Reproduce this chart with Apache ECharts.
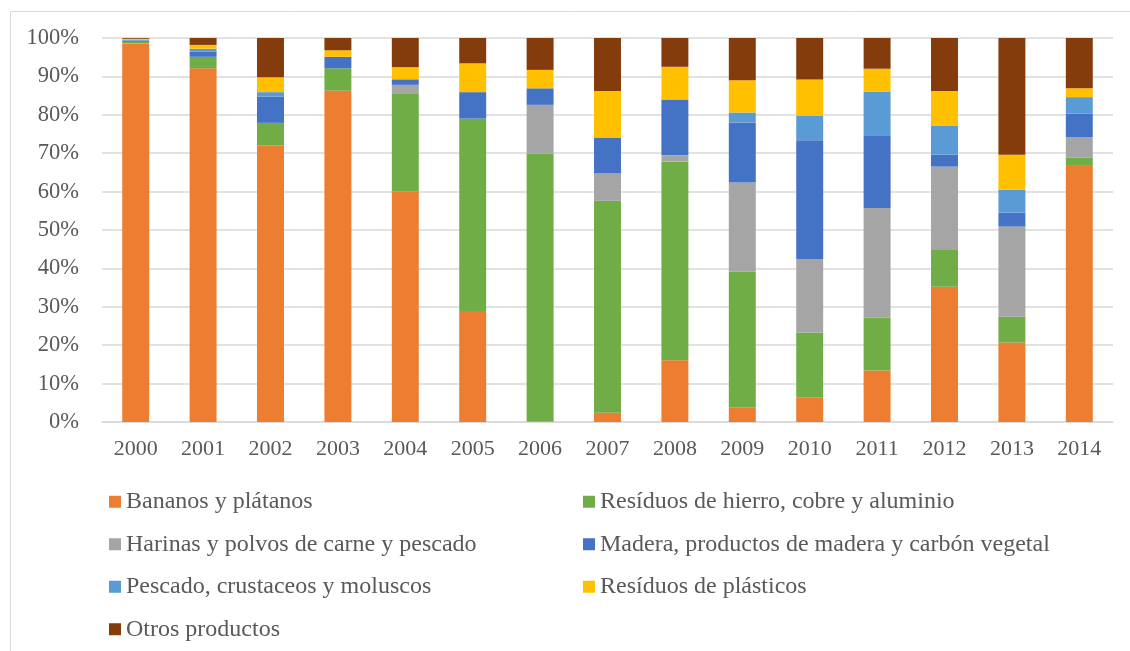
<!DOCTYPE html>
<html>
<head>
<meta charset="utf-8">
<script src="https://cdn.jsdelivr.net/npm/echarts@6/dist/echarts.min.js"></script>
<style>
html,body{margin:0;padding:0;background:#fff;}
#chart{width:1130px;height:651px;}
</style>
</head>
<body>
<div id="chart"></div>
<script>
const years = ['2000','2001','2002','2003','2004','2005','2006','2007','2008','2009','2010','2011','2012','2013','2014'];
const yTicks = [0,10,20,30,40,50,60,70,80,90,100];

const bananos  = [98.6, 92.1, 72.0, 86.3, 60.1, 28.9,  0.1,  2.4, 16.1,  3.8,  6.4, 13.4, 35.2, 20.7, 66.7];
const residuosHierro = [0.4, 3.0, 5.9, 5.8, 25.5, 50.1, 69.8, 55.2, 51.7, 35.3, 16.9, 13.8, 9.6, 6.7, 2.1];
const harinas  = [0.0, 0.0, 0.0, 0.0, 2.2, 0.0, 12.7, 7.2, 1.7, 23.3, 19.1, 28.5, 21.7, 23.5, 5.4];
const madera   = [0.3, 1.3, 6.8, 3.0, 1.3, 6.9, 4.3, 9.3, 14.5, 15.6, 31.0, 19.0, 3.1, 3.6, 6.1];
const pescado  = [0.3, 0.8, 1.2, 0.0, 0.2, 0.0, 0.0, 0.0, 0.0, 2.6, 6.4, 11.3, 7.5, 6.0, 4.3];
const plasticos = [0.2, 1.0, 3.9, 1.7, 3.1, 7.5, 4.8, 12.1, 8.5, 8.4, 9.4, 6.0, 9.1, 9.1, 2.3];
const otros    = [0.2, 1.8, 10.2, 3.2, 7.6, 6.6, 8.3, 13.8, 7.5, 11.0, 10.8, 8.0, 13.8, 30.4, 13.1];

const seriesNames = ['Bananos y plátanos','Resíduos de hierro, cobre y aluminio','Harinas y polvos de carne y pescado','Madera, productos de madera y carbón vegetal','Pescado, crustaceos y moluscos','Resíduos de plásticos','Otros productos'];
const seriesData = [bananos, residuosHierro, harinas, madera, pescado, plasticos, otros];
const colors = ['#ED7D31','#70AD47','#A5A5A5','#4472C4','#5B9BD5','#FFC000','#843C0C'];

const font = '"Liberation Serif", "Times New Roman", serif';
const chart = echarts.init(document.getElementById('chart'));
chart.setOption({
  backgroundColor: '#ffffff',
  animation: false,
  color: colors,
  graphic: [{
    type: 'rect',
    left: 8, top: 9,
    shape: {width: 1140, height: 700},
    style: {fill: 'none', stroke: '#d9d9d9', lineWidth: 1}
  }],
  grid: {left: 102, right: 17, top: 38, height: 384, containLabel: false},
  xAxis: {
    type: 'category',
    data: years,
    axisLine: {lineStyle: {color: '#d9d9d9', width: 1.5}},
    axisTick: {show: false},
    axisLabel: {color: '#595959', fontFamily: font, fontSize: 22, margin: 16}
  },
  yAxis: {
    type: 'value',
    min: 0, max: 100, interval: 10,
    axisLine: {show: false},
    axisTick: {show: false},
    splitLine: {lineStyle: {color: '#d9d9d9', width: 1.5}},
    axisLabel: {color: '#595959', fontFamily: font, fontSize: 22.5, margin: 23,
      formatter: v => yTicks.includes(v) ? v + '%' : ''}
  },
  legend: {
    left: 109, top: 489, width: 960, padding: 0,
    itemWidth: 12, itemHeight: 12, itemGap: 17,
    icon: 'rect',
    textStyle: {color: '#595959', fontFamily: font, fontSize: 24, width: 440, lineHeight: 25.5},
    data: seriesNames
  },
  series: seriesNames.map((n, i) => ({
    name: n,
    type: 'bar',
    stack: 'total',
    barWidth: '40%',
    data: seriesData[i],
    itemStyle: {color: colors[i]}
  }))
});
</script>
</body>
</html>
